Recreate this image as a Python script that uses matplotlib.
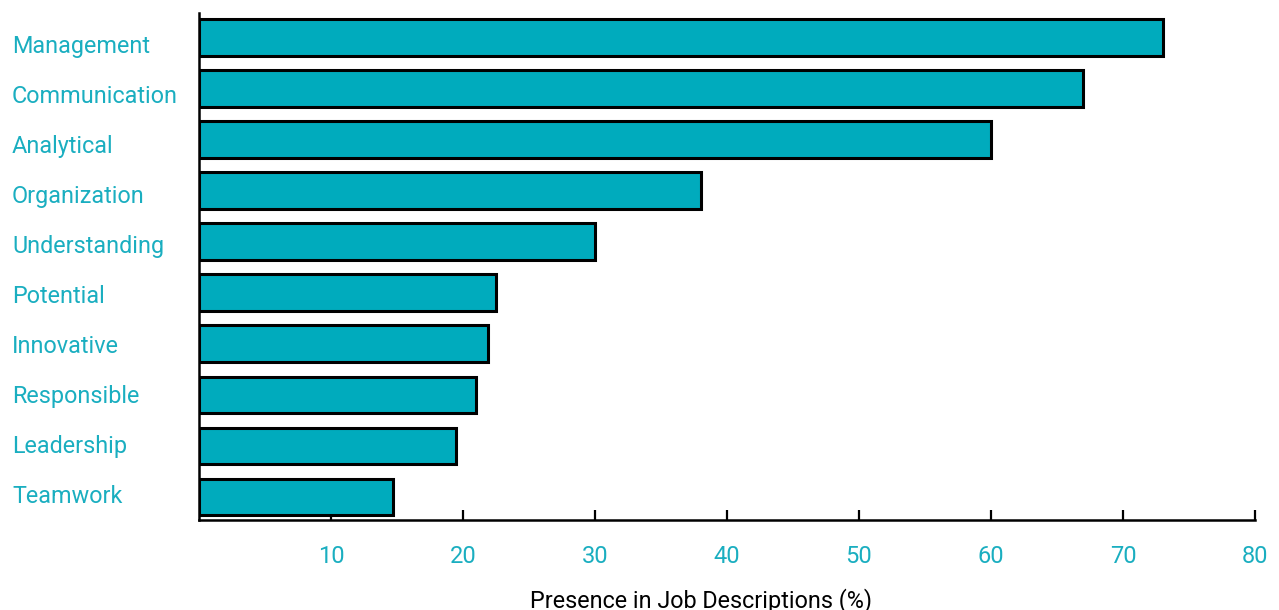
import matplotlib.pyplot as plt
import matplotlib.transforms as mtrans

plt.rcParams['font.family'] = ['Roboto', 'DejaVu Sans']

skills = ['Management', 'Communication', 'Analytical', 'Organization', 'Understanding',
          'Potential', 'Innovative', 'Responsible', 'Leadership', 'Teamwork']
presence = [73.0, 67.0, 60.0, 38.0, 30.0, 22.5, 21.9, 21.0, 19.5, 14.7]
xticks = [10, 20, 30, 40, 50, 60, 70, 80]

bar_col = '#00abbd'
txt_col = '#1aaec0'

fig = plt.figure(figsize=(12.79, 6.10), dpi=100)
ax = fig.add_axes([199/1279, 1 - 520/610, 1056/1279, 507/610])

pos = list(range(len(skills)))[::-1]
ax.barh(pos, presence, height=0.72, color=bar_col, edgecolor='black', linewidth=2.2, zorder=3)

ax.set_xlim(0, 80)
ax.set_ylim(-0.45, 9.48)
ax.set_xticks(xticks)
ax.set_xticklabels([str(t) for t in xticks])
ax.set_yticks(pos)
ax.set_yticklabels(skills, ha='left')

ax.tick_params(axis='x', direction='in', length=7.5, width=1.6, colors='black',
               labelcolor=txt_col, labelsize=17, pad=18)
ax.tick_params(axis='y', length=0, labelcolor=txt_col, labelsize=16.8, pad=187*0.72)

# the labels in the reference are spaced a bit tighter than the bars
labs = ax.get_yticklabels()
n = len(labs)
for lab in labs:
    i = n - 1 - int(round(lab.get_position()[1]))
    dy = -6.5 + i * 9.5 / (n - 1)
    lab.set_transform(lab.get_transform() + mtrans.ScaledTranslation(0, dy / 100, fig.dpi_scale_trans))

for s in ['top', 'right']:
    ax.spines[s].set_visible(False)
for s in ['left', 'bottom']:
    ax.spines[s].set_linewidth(1.8)
    ax.spines[s].set_color('black')
    ax.spines[s].set_zorder(4)

ax.set_xlabel('Presence in Job Descriptions (%)', fontsize=16.8, color='black')
ax.xaxis.set_label_coords(0.475, -0.135)

fig.savefig('out.png', dpi=100)
